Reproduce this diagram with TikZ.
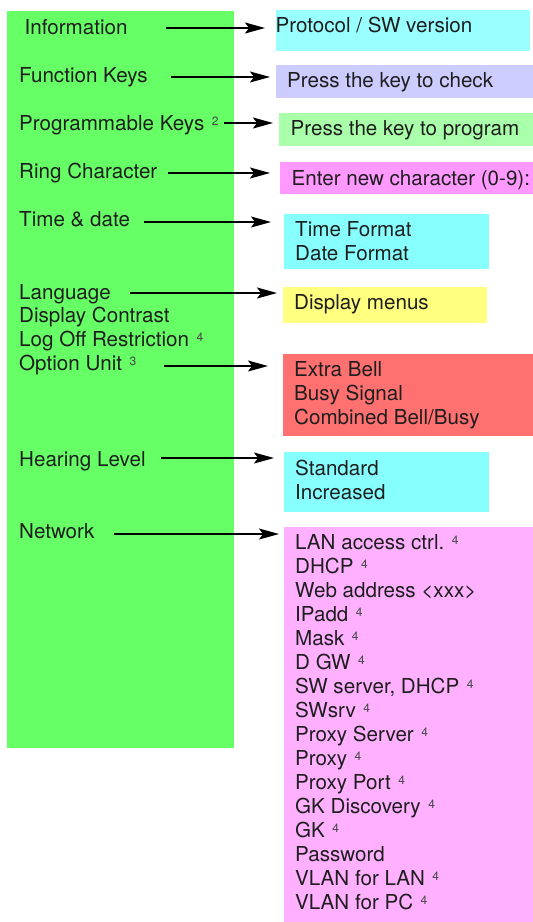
\documentclass[tikz,border=0pt]{standalone}
\usepackage{fontspec}
\setmainfont{TeX Gyre Heros}
\usetikzlibrary{arrows.meta}
\definecolor{mgreen}{RGB}{102,255,102}
\definecolor{cyanA}{RGB}{153,255,255}
\definecolor{cyanB}{RGB}{136,255,255}
\definecolor{lav}{RGB}{204,204,255}
\definecolor{lgreen}{RGB}{170,255,170}
\definecolor{pinkA}{RGB}{255,153,255}
\definecolor{pinkB}{RGB}{255,176,255}
\definecolor{yel}{RGB}{255,255,128}
\definecolor{redb}{RGB}{255,112,112}
\definecolor{txtc}{RGB}{30,30,30}
\definecolor{fnc}{RGB}{70,70,70}
\newcommand{\fnm}[1]{\hspace{7.5pt}{\fontsize{12pt}{12pt}\selectfont\color{fnc}\raisebox{5pt}{#1}}}
\begin{document}
\begin{tikzpicture}[x=1pt,y=-1pt,
  txt/.style={inner sep=0pt,anchor=base west,text=txtc,font=\fontsize{20.6pt}{24pt}\selectfont},
  panel/.style={draw=none,inner sep=0pt,anchor=north west},
  arr/.style={line width=1.5pt,-{Stealth[length=20pt,width=11pt,inset=4pt]}}]
\useasboundingbox (0,0) rectangle (533,922);
% left green panel
\node[panel,fill=mgreen,minimum width=227pt,minimum height=737pt] (menu) at (7,11) {};
% right boxes
\node[panel,fill=cyanA,minimum width=254pt,minimum height=41pt] (info) at (276,10) {};
\node[panel,fill=lav,minimum width=257pt,minimum height=33pt] (func) at (276,65) {};
\node[panel,fill=lgreen,minimum width=254pt,minimum height=33pt] (prog) at (279,113) {};
\node[panel,fill=pinkA,minimum width=253pt,minimum height=32pt] (ring) at (280,162) {};
\node[panel,fill=cyanB,minimum width=205pt,minimum height=55pt] (time) at (284,214) {};
\node[panel,fill=yel,minimum width=204pt,minimum height=36pt] (disp) at (283,287) {};
\node[panel,fill=redb,minimum width=250pt,minimum height=82pt] (opt) at (283,354) {};
\node[panel,fill=cyanB,minimum width=205pt,minimum height=60pt] (hear) at (284,452) {};
\node[panel,fill=pinkB,minimum width=249pt,minimum height=395pt] (net) at (284,527) {};
% left texts
\node[txt] (tInfo) at (24.5,34) {Information};
\node[txt] (tFunc) at (19,82) {Function Keys};
\node[txt] (tProg) at (19,130) {Programmable Keys\fnm{2}};
\node[txt] (tRing) at (19,178) {Ring Character};
\node[txt] (tTime) at (19,226) {Time \& date};
\node[txt] (tLang) at (19,299) {Language};
\node[txt] (tCont) at (19,322.5) {Display Contrast};
\node[txt] (tLog) at (19,346) {Log Off Restriction\fnm{4}};
\node[txt] (tOpt) at (19,370) {Option Unit\fnm{3}};
\node[txt] (tHear) at (19,466) {Hearing Level};
\node[txt] (tNet) at (19,538) {Network};
% right texts
\node[txt] (rInfo) at (275.5,32) {Protocol / SW version};
\node[txt] (rFunc) at (287,87) {Press the key to check};
\node[txt] (rProg) at (290.5,135) {Press the key to program};
\node[txt] (rRing) at (291.5,185) {Enter new character (0-9):};
\node[txt] (rTime1) at (295,236) {Time Format};
\node[txt] (rTime2) at (295,260) {Date Format};
\node[txt] (rDisp) at (294,309) {Display menus};
\node[txt] (rOpt1) at (294,376) {Extra Bell};
\node[txt] (rOpt2) at (294,400) {Busy Signal};
\node[txt] (rOpt3) at (294,424) {Combined Bell/Busy};
\node[txt] (rHear1) at (295,475) {Standard};
\node[txt] (rHear2) at (295,499) {Increased};
\foreach \t [count=\i] in {{LAN access ctrl.\fnm{4}},{DHCP\fnm{4}},{Web address <xxx>},{IPadd\fnm{4}},{Mask\fnm{4}},{D GW\fnm{4}},{SW server, DHCP\fnm{4}},{SWsrv\fnm{4}},{Proxy Server\fnm{4}},{Proxy\fnm{4}},{Proxy Port\fnm{4}},{GK Discovery\fnm{4}},{GK\fnm{4}},{Password},{VLAN for LAN\fnm{4}},{VLAN for PC\fnm{4}}}
  \node[txt] (rNet\i) at (295,{549+24*(\i-1)}) {\t};
% arrow start points
\coordinate (s1) at (166,28);
\coordinate (s2) at (171,77);
\coordinate (s3) at (224,123);
\coordinate (s4) at (168,173);
\coordinate (s5) at (144,222);
\coordinate (s6) at (130,293);
\coordinate (s7) at (164,366);
\coordinate (s8) at (161,458);
\coordinate (s9) at (114,534);
% arrows
\draw[arr] (s1) -- ([xshift=-11pt]info.west |- s1);
\draw[arr] (s2) -- ([xshift=-6pt]func.west |- s2);
\draw[arr] (s3) -- ([xshift=-6pt]prog.west |- s3);
\draw[arr] (s4) -- ([xshift=-10pt]ring.west |- s4);
\draw[arr] (s5) -- ([xshift=-13pt]time.west |- s5);
\draw[arr] (s6) -- ([xshift=-6pt]disp.west |- s6);
\draw[arr] (s7) -- ([xshift=-15pt]opt.west |- s7);
\draw[arr] (s8) -- ([xshift=-10pt]hear.west |- s8);
\draw[arr] (s9) -- ([xshift=-5pt]net.west |- s9);
\end{tikzpicture}
\end{document}
